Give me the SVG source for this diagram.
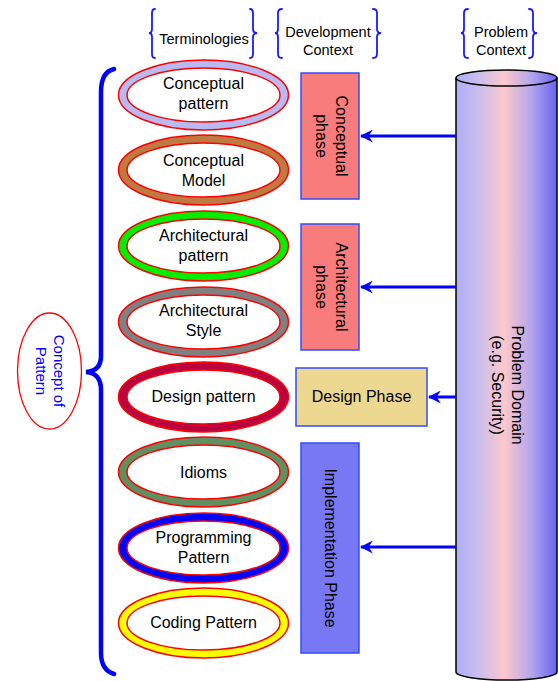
<svg xmlns="http://www.w3.org/2000/svg" width="558" height="681" viewBox="0 0 558 681">
<style>
text{font-family:"Liberation Sans",Arial,sans-serif;fill:#000;text-anchor:middle}
.t{font-size:16px}
.h{font-size:14.5px}
.brace{fill:none;stroke:#1a1aff;stroke-width:1.8;stroke-linecap:round}
.ring{stroke:#ff0000;stroke-width:1.5}
.inner{fill:#fff;stroke:#ff0000;stroke-width:1.5}
.box{stroke:#2f4dff;stroke-width:1.5}
.arrow{stroke:#0000ff;stroke-width:3;fill:none;marker-end:url(#ah)}
</style>
<defs>
<marker id="ah" viewBox="0 0 12 12" refX="11" refY="6" markerWidth="13" markerHeight="13" markerUnits="userSpaceOnUse" orient="auto">
<path d="M0,0 L12,6 L0,12 L4,6 Z" fill="#0000ff"/>
</marker>
<linearGradient id="cyl" x1="0" y1="0" x2="1" y2="0">
<stop offset="0" stop-color="#aeaef6"/>
<stop offset="0.2" stop-color="#c6bdf0"/>
<stop offset="0.48" stop-color="#fcc8cc"/>
<stop offset="0.75" stop-color="#b4a4ee"/>
<stop offset="1" stop-color="#6464f0"/>
</linearGradient>
</defs>

<g id="headers">
<path class="brace" d="M155,9 Q152,9 152,13 L152,29 Q152,33 149,33 Q152,33 152,37 L152,54 Q152,58 155,58"/>
<path class="brace" d="M250,9 Q253,9 253,13 L253,29 Q253,33 257,33 Q253,33 253,37 L253,54 Q253,58 250,58"/>
<text class="h" x="204" y="44">Terminologies</text>
<path class="brace" d="M282,9 Q278,9 278,13 L278,29 Q278,33 275,33 Q278,33 278,37 L278,54 Q278,58 282,58"/>
<path class="brace" d="M373,9 Q377,9 377,13 L377,29 Q377,33 381,33 Q377,33 377,37 L377,54 Q377,58 373,58"/>
<text class="h" x="328" y="37">Development</text>
<text class="h" x="328" y="55">Context</text>
<path class="brace" d="M468,9 Q464,9 464,13 L464,29 Q464,33 461,33 Q464,33 464,37 L464,54 Q464,58 468,58"/>
<path class="brace" d="M529,9 Q533,9 533,13 L533,29 Q533,33 537,33 Q533,33 533,37 L533,54 Q533,58 529,58"/>
<text class="h" x="501" y="37">Problem</text>
<text class="h" x="501" y="55">Context</text>
</g>

<g id="concept-brace">
<path d="M114,69 Q101,72 101,92 L101,356 Q101,371 86,372 Q101,373 101,390 L101,653 Q101,670 114,674" fill="none" stroke="#0000ff" stroke-width="4.5" stroke-linecap="round"/>
</g>

<g id="concept-of-pattern">
<ellipse cx="49.5" cy="371" rx="32" ry="58" fill="#fff" stroke="#ff0000" stroke-width="1.3"/>
<text transform="translate(49.5,371) rotate(90)" style="fill:#0000ff;font-size:15px"><tspan x="0" y="-4">Concept of</tspan><tspan x="0" y="14">Pattern</tspan></text>
</g>

<g id="conceptual-pattern">
<ellipse class="ring" cx="203.5" cy="95" rx="85" ry="35" fill="#babaf2"/>
<ellipse class="inner" cx="203.5" cy="95" rx="76.5" ry="27"/>
<text class="t" x="203.5" y="89">Conceptual</text>
<text class="t" x="203.5" y="109">pattern</text>
</g>
<g id="conceptual-model">
<ellipse class="ring" cx="203.5" cy="170" rx="85" ry="35" fill="#bf7a41"/>
<ellipse class="inner" cx="203.5" cy="170" rx="76.5" ry="27"/>
<text class="t" x="203.5" y="166">Conceptual</text>
<text class="t" x="203.5" y="186">Model</text>
</g>
<g id="architectural-pattern">
<ellipse class="ring" cx="203.5" cy="246" rx="85" ry="35" fill="#00ee00"/>
<ellipse class="inner" cx="203.5" cy="246" rx="76.5" ry="27"/>
<text class="t" x="203.5" y="241">Architectural</text>
<text class="t" x="203.5" y="261">pattern</text>
</g>
<g id="architectural-style">
<ellipse class="ring" cx="203.5" cy="322" rx="85" ry="35" fill="#808080"/>
<ellipse class="inner" cx="203.5" cy="322" rx="76.5" ry="27"/>
<text class="t" x="203.5" y="316">Architectural</text>
<text class="t" x="203.5" y="336">Style</text>
</g>
<g id="design-pattern">
<ellipse class="ring" cx="203.5" cy="397" rx="85" ry="35" fill="#bb0040"/>
<ellipse class="inner" cx="203.5" cy="397" rx="76.5" ry="27"/>
<text class="t" x="203.5" y="402">Design pattern</text>
</g>
<g id="idioms">
<ellipse class="ring" cx="203.5" cy="472" rx="85" ry="35" fill="#5f9060"/>
<ellipse class="inner" cx="203.5" cy="472" rx="76.5" ry="27"/>
<text class="t" x="203.5" y="478">Idioms</text>
</g>
<g id="programming-pattern">
<ellipse class="ring" cx="203.5" cy="548" rx="85" ry="35" fill="#0000ff"/>
<ellipse class="inner" cx="203.5" cy="548" rx="76.5" ry="27"/>
<text class="t" x="203.5" y="543">Programming</text>
<text class="t" x="203.5" y="563">Pattern</text>
</g>
<g id="coding-pattern">
<ellipse class="ring" cx="203.5" cy="623" rx="85" ry="35" fill="#ffff00"/>
<ellipse class="inner" cx="203.5" cy="623" rx="76.5" ry="27"/>
<text class="t" x="203.5" y="628">Coding Pattern</text>
</g>

<g id="conceptual-phase">
<rect class="box" x="301" y="73" width="58" height="126" fill="#f87c7c"/>
<text class="t" transform="translate(330,136) rotate(90)"><tspan x="0" y="-6">Conceptual</tspan><tspan x="0" y="14">phase</tspan></text>
</g>
<g id="architectural-phase">
<rect class="box" x="301" y="224" width="58" height="126" fill="#f87c7c"/>
<text class="t" transform="translate(330,287) rotate(90)"><tspan x="0" y="-6">Architectural</tspan><tspan x="0" y="14">phase</tspan></text>
</g>
<g id="design-phase">
<rect class="box" x="296" y="368" width="131" height="58" fill="#ecd890"/>
<text class="t" x="361.5" y="402">Design Phase</text>
</g>
<g id="implementation-phase">
<rect class="box" x="301" y="443" width="58" height="210" fill="#7878f4"/>
<text class="t" transform="translate(330,548) rotate(90)" y="5.5">Implementation Phase</text>
</g>

<g id="problem-domain">
<path d="M456,78 L456,672 A50.5,8 0 0 0 557,672 L557,78" fill="url(#cyl)" stroke="#000" stroke-width="1.5"/>
<ellipse cx="506.5" cy="78" rx="50.5" ry="8" fill="url(#cyl)" stroke="#000" stroke-width="1.5"/>
<text class="t" transform="translate(506,385) rotate(90)"><tspan x="0" y="-6">Problem Domain</tspan><tspan x="0" y="14">(e.g. Security)</tspan></text>
</g>

<g id="connectors">
<line class="arrow" x1="456" y1="136" x2="361" y2="136"/>
<line class="arrow" x1="456" y1="287" x2="361" y2="287"/>
<line class="arrow" x1="456" y1="397" x2="429" y2="397"/>
<line class="arrow" x1="456" y1="547" x2="361" y2="547"/>
</g>
</svg>
